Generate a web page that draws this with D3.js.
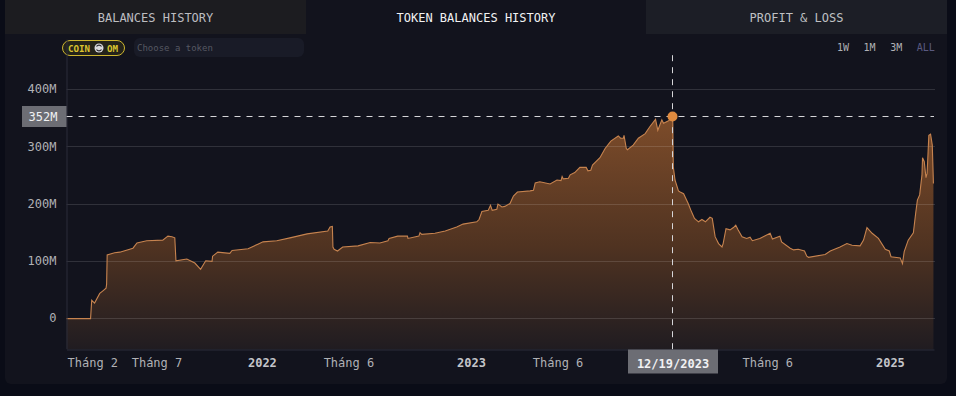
<!DOCTYPE html>
<html>
<head>
<meta charset="utf-8">
<script src="https://cdn.jsdelivr.net/npm/d3@7"></script>
<style>
  html, body { margin: 0; padding: 0; background: #0a0c17; overflow: hidden; }
  svg { display: block; font-family: "DejaVu Sans Mono", monospace; }
</style>
</head>
<body>
<svg id="chart" width="956" height="396"></svg>
<script>
const tabNames = ["BALANCES HISTORY", "TOKEN BALANCES HISTORY", "PROFIT & LOSS"];
const rangeNames = ["1W", "1M", "3M", "ALL"];

const yTicks = [0, 100, 200, 300, 400];
const xTickDates = ["2021-02-01", "2021-07-01", "2022-01-01", "2022-06-01", "2023-01-01", "2023-06-01", "2024-06-01", "2025-01-01"];
const xTickLabels = ["Tháng 2", "Tháng 7", "2022", "Tháng 6", "2023", "Tháng 6", "Tháng 6", "2025"];

const crossDate = "2023-12-19";
const crossValue = 352;

// values in millions
const dates2021 = ["2021-01-25", "2021-03-08", "2021-03-10", "2021-03-15", "2021-03-24", "2021-03-29", "2021-04-04", "2021-04-05", "2021-04-06", "2021-04-19", "2021-04-28", "2021-05-21", "2021-05-28", "2021-06-14", "2021-07-12", "2021-07-21", "2021-07-28", "2021-08-02", "2021-08-04", "2021-08-23", "2021-09-06", "2021-09-16", "2021-09-25", "2021-10-06", "2021-10-07", "2021-10-16", "2021-11-06", "2021-11-10", "2021-12-08", "2021-12-25"];
const values2021 = [0, 0, 32, 27, 44, 48, 53, 60, 111, 115, 116, 123, 132, 136, 137, 144, 143, 141, 101, 104, 97, 86, 101, 100, 109, 116, 114, 119, 122, 130];

const dates2022 = ["2022-01-03", "2022-01-27", "2022-02-19", "2022-03-21", "2022-04-26", "2022-04-30", "2022-05-04", "2022-05-05", "2022-05-07", "2022-05-13", "2022-05-22", "2022-06-18", "2022-07-09", "2022-07-26", "2022-08-09", "2022-08-11", "2022-08-26", "2022-09-12", "2022-09-13", "2022-10-02", "2022-10-04", "2022-10-07", "2022-10-30", "2022-11-17", "2022-12-07", "2022-12-18"];
const values2022 = [134, 136, 141, 148, 153, 160, 161, 125, 121, 118, 125, 127, 133, 132, 136, 140, 144, 144, 140, 144, 150, 147, 149, 153, 160, 165];

const dates2023 = ["2023-01-11", "2023-01-15", "2023-01-20", "2023-01-31", "2023-02-04", "2023-02-07", "2023-02-15", "2023-02-17", "2023-02-24", "2023-03-01", "2023-03-10", "2023-03-16", "2023-03-23", "2023-04-14", "2023-04-20", "2023-04-23", "2023-05-01", "2023-05-19", "2023-05-31", "2023-06-07", "2023-06-09", "2023-06-11", "2023-06-20", "2023-06-23", "2023-07-01", "2023-07-10", "2023-07-21", "2023-07-24", "2023-07-29", "2023-08-01", "2023-08-14", "2023-08-23", "2023-09-02", "2023-09-15", "2023-09-19", "2023-09-24", "2023-09-25", "2023-09-29", "2023-10-01", "2023-10-11", "2023-10-20", "2023-11-01", "2023-11-09", "2023-11-19", "2023-11-23", "2023-11-30", "2023-12-03", "2023-12-11", "2023-12-19", "2023-12-20", "2023-12-23", "2023-12-29"];
const values2023 = [169, 173, 187, 189, 198, 189, 191, 200, 195, 196, 201, 214, 221, 223, 224, 237, 239, 235, 242, 241, 248, 244, 245, 251, 255, 264, 264, 258, 259, 268, 281, 297, 310, 319, 315, 315, 320, 297, 295, 303, 315, 323, 335, 348, 329, 347, 341, 345, 352, 265, 242, 223];

const dates2024 = ["2024-01-01", "2024-01-07", "2024-01-15", "2024-01-21", "2024-01-26", "2024-02-02", "2024-02-08", "2024-02-14", "2024-02-22", "2024-02-26", "2024-03-02", "2024-03-08", "2024-03-14", "2024-03-16", "2024-03-21", "2024-03-28", "2024-04-03", "2024-04-07", "2024-04-11", "2024-04-18", "2024-04-26", "2024-05-02", "2024-05-06", "2024-05-19", "2024-06-06", "2024-06-10", "2024-06-23", "2024-06-26", "2024-07-11", "2024-07-17", "2024-07-25", "2024-08-05", "2024-08-09", "2024-08-12", "2024-09-10", "2024-09-19", "2024-10-06", "2024-10-18", "2024-10-27", "2024-11-10", "2024-11-16", "2024-11-22", "2024-12-01", "2024-12-12", "2024-12-24", "2024-12-31"];
const values2024 = [221, 218, 201, 186, 175, 169, 173, 169, 177, 175, 143, 131, 125, 131, 157, 155, 159, 163, 155, 143, 140, 142, 136, 140, 149, 139, 144, 134, 123, 120, 121, 118, 109, 107, 112, 118, 125, 131, 128, 127, 137, 159, 149, 140, 121, 118];

const dates2025 = ["2025-01-03", "2025-01-19", "2025-01-23", "2025-01-26", "2025-02-02", "2025-02-11", "2025-02-15", "2025-02-18", "2025-02-22", "2025-02-26", "2025-02-27", "2025-03-02", "2025-03-05", "2025-03-07", "2025-03-10", "2025-03-13", "2025-03-16", "2025-03-18"];
const values2025 = [108, 106, 96, 117, 137, 150, 184, 207, 216, 251, 281, 274, 246, 254, 320, 322, 303, 236];

const parseDate = d3.utcParse("%Y-%m-%d");
const allDates = [].concat(dates2021, dates2022, dates2023, dates2024, dates2025);
const allValues = [].concat(values2021, values2022, values2023, values2024, values2025);
const balance = allDates.map((d, i) => ({ date: parseDate(d), value: allValues[i] }));

const svg = d3.select("#chart");

const plotLeft = 66.5, plotRight = 934, plotTop = 55.2, plotBottom = 349.5;

const x = d3.scaleUtc()
  .domain([parseDate("2021-01-25"), parseDate("2025-03-19")])
  .range([plotLeft, plotRight]);
const y = d3.scaleLinear()
  .domain([-54, 460])
  .range([plotBottom, plotTop]);

//========== Card and tabs ==========

svg.append("rect")
  .attr("x", 5).attr("y", 0).attr("width", 942).attr("height", 384).attr("rx", 6)
  .attr("fill", "#12131d");

const tabs = [
  { x: 5, w: 301, fill: "#1c1c20", color: "#bcbdc0" },
  { x: 306, w: 340, fill: "#12131d", color: "#f1f1f3" },
  { x: 646, w: 301, fill: "#1c1e26", color: "#bfc0c3" }
];
tabs.forEach((t, i) => {
  svg.append("rect")
    .attr("x", t.x).attr("y", 0).attr("width", t.w).attr("height", 34)
    .attr("fill", t.fill);
  svg.append("text")
    .attr("x", t.x + t.w / 2).attr("y", 22)
    .attr("text-anchor", "middle")
    .attr("font-size", 12)
    .attr("fill", t.color)
    .text(tabNames[i]);
});

//========== Coin pill and search box ==========

svg.append("rect")
  .attr("x", 62.5).attr("y", 40.5).attr("width", 62).attr("height", 15).attr("rx", 7.5)
  .attr("fill", "#24231a").attr("stroke", "#cdb62f");
svg.append("text")
  .attr("x", 68).attr("y", 51.5)
  .attr("font-size", 9.2).attr("font-weight", "bold").attr("fill", "#d8c22f")
  .text("COIN");
svg.append("circle")
  .attr("cx", 99).attr("cy", 48).attr("r", 4.5).attr("fill", "#d9d9dc");
svg.append("path")
  .attr("d", "M96.5 46.5a3 3 0 0 1 5 0M101.5 49.5a3 3 0 0 1-5 0")
  .attr("fill", "none").attr("stroke", "#2a2a30").attr("stroke-width", 1.2);
svg.append("text")
  .attr("x", 107).attr("y", 51.5)
  .attr("font-size", 9.2).attr("font-weight", "bold").attr("fill", "#d8c22f")
  .text("OM");

svg.append("rect")
  .attr("x", 134).attr("y", 38).attr("width", 170).attr("height", 19).attr("rx", 6)
  .attr("fill", "#191b27");
svg.append("text")
  .attr("x", 137).attr("y", 51)
  .attr("font-size", 9).attr("fill", "#565862")
  .text("Choose a token");

svg.append("g")
  .selectAll("text")
  .data(rangeNames)
  .enter()
  .append("text")
  .attr("x", (d, i) => 837 + i * 26.6)
  .attr("y", 51)
  .attr("font-size", 10)
  .attr("fill", d => (d === "ALL" ? "#5a5a80" : "#b0b1b5"))
  .text(d => d);

//========== Plot ==========

const defs = svg.append("defs");
const fade = defs.append("linearGradient")
  .attr("id", "fade")
  .attr("gradientUnits", "userSpaceOnUse")
  .attr("x1", 0).attr("x2", 0)
  .attr("y1", y(crossValue)).attr("y2", plotBottom);
fade.append("stop").attr("offset", 0).attr("stop-color", "#7d4c2a");
fade.append("stop").attr("offset", 0.55).attr("stop-color", "#503321");
fade.append("stop").attr("offset", 1).attr("stop-color", "#201c21");

const area = d3.area()
  .x(d => x(d.date))
  .y0(plotBottom)
  .y1(d => y(d.value));
const line = d3.line()
  .x(d => x(d.date))
  .y(d => y(d.value));

svg.append("path")
  .datum(balance)
  .attr("d", area)
  .attr("fill", "url(#fade)");

// grid sits on top of the fill, it shows through the area
svg.append("g")
  .selectAll("line")
  .data(yTicks)
  .enter()
  .append("line")
  .attr("x1", plotLeft).attr("x2", plotRight + 1)
  .attr("y1", d => Math.floor(y(d)) + 0.5)
  .attr("y2", d => Math.floor(y(d)) + 0.5)
  .attr("stroke", "#ffffff")
  .attr("stroke-opacity", 0.13);

svg.append("path")
  .datum(balance)
  .attr("d", line)
  .attr("fill", "none")
  .attr("stroke", "#c6834f")
  .attr("stroke-width", 1.1);

const yAxis = d3.axisLeft(y)
  .tickValues(yTicks)
  .tickSize(0)
  .tickPadding(10)
  .tickFormat(d => (d === 0 ? "0" : d + "M"));
const yGroup = svg.append("g")
  .attr("transform", `translate(${plotLeft},-0.5)`)
  .call(yAxis);
yGroup.select(".domain").attr("d", `M0.5,${plotTop - 15}V${plotBottom}`).attr("stroke", "#2b2d3a");
yGroup.selectAll("text")
  .attr("font-family", "DejaVu Sans Mono")
  .attr("font-size", 12)
  .attr("fill", "#b0b1b5");

const xAxis = d3.axisBottom(x)
  .tickValues(xTickDates.map(parseDate))
  .tickSize(0)
  .tickPadding(9)
  .tickFormat((d, i) => xTickLabels[i]);
const xGroup = svg.append("g")
  .attr("transform", `translate(0,${plotBottom})`)
  .call(xAxis);
xGroup.select(".domain").attr("stroke", "#2b2d3a");
xGroup.selectAll("text")
  .attr("font-family", "DejaVu Sans Mono")
  .attr("font-size", 12)
  .attr("font-weight", (d, i) => (xTickLabels[i].startsWith("20") ? "bold" : "normal"))
  .attr("fill", (d, i) => (xTickLabels[i].startsWith("20") ? "#c4c5c9" : "#b0b1b5"));
// first label would fall off the axis, the chart pushes it right
xGroup.selectAll("text")
  .filter((d, i) => i === 0)
  .attr("text-anchor", "start")
  .attr("x", plotLeft - x(parseDate(xTickDates[0])) + 0.5);

//========== Crosshair ==========

const cx = Math.floor(x(parseDate(crossDate))) + 0.5;
const cy = Math.floor(y(crossValue)) - 0.5;

svg.append("line")
  .attr("x1", plotLeft).attr("x2", plotRight)
  .attr("y1", cy).attr("y2", cy)
  .attr("stroke", "#d5d5d8")
  .attr("stroke-dasharray", "6 6");
svg.append("line")
  .attr("x1", cx).attr("x2", cx)
  .attr("y1", plotTop).attr("y2", plotBottom)
  .attr("stroke", "#d5d5d8")
  .attr("stroke-dasharray", "6 6");
svg.append("circle")
  .attr("cx", cx).attr("cy", cy).attr("r", 5)
  .attr("fill", "#e08b3f");

svg.append("rect")
  .attr("x", 22).attr("y", cy - 10.5).attr("width", plotLeft - 22).attr("height", 21)
  .attr("fill", "#6c6d74");
svg.append("text")
  .attr("x", plotLeft - 9).attr("y", cy + 4.5)
  .attr("text-anchor", "end")
  .attr("font-size", 12)
  .attr("fill", "#f1f1f3")
  .text(crossValue + "M");

svg.append("rect")
  .attr("x", cx - 44.5).attr("y", plotBottom).attr("width", 90).attr("height", 24)
  .attr("fill", "#6c6d74");
svg.append("text")
  .attr("x", cx + 0.5).attr("y", plotBottom + 18)
  .attr("text-anchor", "middle")
  .attr("font-size", 12)
  .attr("font-weight", "bold")
  .attr("fill", "#f1f1f3")
  .text(d3.utcFormat("%m/%d/%Y")(parseDate(crossDate)));
</script>
</body>
</html>
